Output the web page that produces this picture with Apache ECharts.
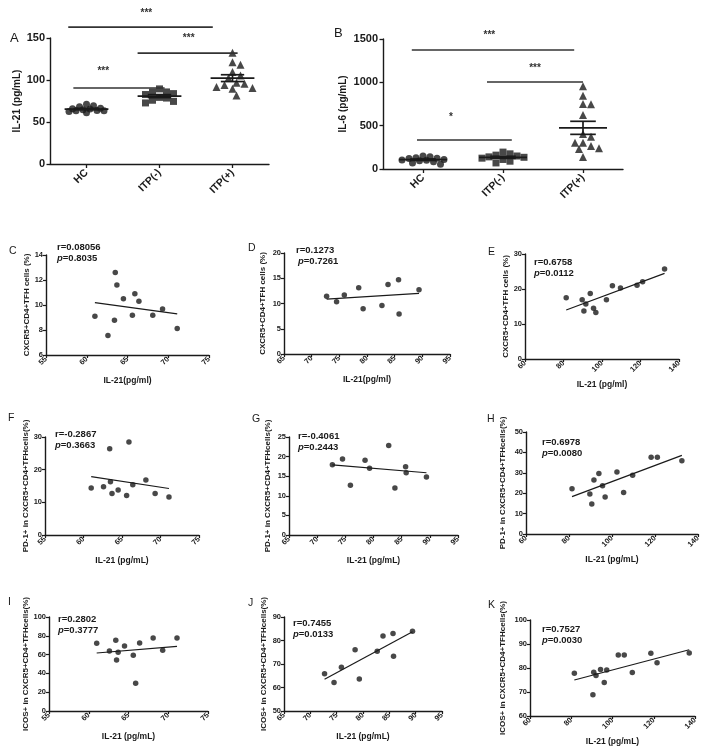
<!DOCTYPE html>
<html><head><meta charset="utf-8">
<script src="https://cdn.jsdelivr.net/npm/echarts@6/dist/echarts.min.js"></script>
<style>html,body{margin:0;padding:0;background:#fff}#c{width:710px;height:753px}</style>
</head><body><div id="c"></div>
<script>
// ---------------- DATA ----------------
const categories = ['HC', 'ITP(-)', 'ITP(+)'];
// IL-21 (pg/mL) per group
const il21HC  = [61.0, 62.6, 63.4, 63.5, 63.7, 64.5, 65.6, 65.9, 66.4, 68.1, 69.3, 71.1];
const il21Neg = [72.7, 74.5, 75.9, 78.5, 79.3, 82.7, 83.8, 85.7, 85.8, 89.4];
const il21Pos = [81.4, 89.7, 90.6, 91.6, 93.9, 95.6, 96.8, 102.3, 105.4, 109.6, 118.2, 121.1, 132.5];
const il21PosK = [81.5, 90.5, 90.9, 92.0, 94.2, 96.0, 97.2, 102.8, 105.7, 109.6, 118.6, 121.6, 137.2];
// IL-6 (pg/mL) per group
const il6HC  = [150, 140, 130, 125, 120, 110, 105, 100, 95, 85, 70, 55];
const il6Neg = [195, 175, 160, 150, 140, 135, 125, 110, 90, 70];
const il6Pos = [954, 846, 750, 746, 623, 404, 373, 304, 304, 265, 238, 231, 138];
// CXCR5+CD4+TFH cells (%)
const tfhHC  = [9.11, 7.56, 8.78, 12.6, 11.6, 10.5, 9.19, 10.9, 10.3, 9.19, 9.69, 8.12];
const tfhNeg = [11.43, 10.37, 11.7, 13.1, 8.97, 9.6, 13.75, 14.7, 7.9, 12.7];
const tfhPos = [17.5, 16.95, 13.7, 15.7, 18.7, 14.5, 13.3, 16.9, 20.9, 20.3, 21.05, 22.1, 25.7];
// PD-1+ in CXCR5+CD4+TFH cells (%)
const pd1HC  = [14.4, 14.75, 26.4, 16.3, 12.7, 13.8, 12.1, 28.5, 15.4, 16.8, 12.7, 11.6];
const pd1Neg = [17.9, 19.4, 12.7, 19.1, 17.0, 22.8, 12.0, 17.4, 15.9, 14.8];
const pd1Pos = [22.2, 19.6, 14.7, 26.5, 29.7, 23.7, 18.1, 30.4, 20.4, 28.8, 37.6, 37.6, 35.9];
// ICOS+ in CXCR5+CD4+TFH cells (%)
const icosHC  = [72.0, 63.8, 75.2, 54.3, 62.4, 69.1, 59.2, 29.4, 72.3, 77.7, 64.5, 77.7];
const icosNeg = [65.9, 62.1, 68.6, 76.1, 63.6, 75.4, 81.9, 83.0, 73.3, 83.9];
const icosPos = [77.8, 68.9, 78.2, 76.9, 79.4, 74.0, 79.2, 85.4, 85.4, 78.1, 86.1, 82.2, 86.3];
// correlation statistics
const statR = ['r=0.08056', 'r=0.1273', 'r=0.6758', 'r=-0.2867', 'r=-0.4061', 'r=0.6978', 'r=0.2802', 'r=0.7455', 'r=0.7527'];
const statP = ['0.8035', '0.7261', '0.0112', '0.3663', '0.2443', '0.0080', '0.3777', '0.0133', '0.0030'];
// significance comparisons [from, to, label]
const sigA = [['HC', 'ITP(+)', '***'], ['ITP(-)', 'ITP(+)', '***'], ['HC', 'ITP(-)', '***']];
const sigB = [['HC', 'ITP(+)', '***'], ['ITP(-)', 'ITP(+)', '***'], ['HC', 'ITP(-)', '*']];

// ---------------- LAYOUT ----------------
const FONT = '"Liberation Sans", Arial, sans-serif';
const INK = '#1a1a1a';
const ci = c => categories.indexOf(c);

function meanSem(a) {
  const n = a.length, m = a.reduce((s, v) => s + v, 0) / n;
  const sd = Math.sqrt(a.reduce((s, v) => s + (v - m) * (v - m), 0) / (n - 1));
  return [m, sd / Math.sqrt(n)];
}
function regress(xs, ys) {
  const n = xs.length, mx = xs.reduce((s, v) => s + v, 0) / n, my = ys.reduce((s, v) => s + v, 0) / n;
  let sxy = 0, sxx = 0;
  xs.forEach((x, i) => { sxy += (x - mx) * (ys[i] - my); sxx += (x - mx) * (x - mx); });
  const b = sxy / sxx, a = my - b * mx;
  const x0 = Math.min(...xs), x1 = Math.max(...xs);
  return [[x0, a + b * x0], [x1, a + b * x1]];
}
// beeswarm layout limited to a maximum horizontal spread (pixels)
function swarm(values, idx, pxX, pxY, size, maxOff) {
  const order = values.map((v, i) => i).sort((a, b) => values[b] - values[a]);
  const placed = [], out = new Array(values.length);
  const minD = size * 0.9, step = size * 0.5;
  for (const i of order) {
    const v = values[i];
    let best = 0, bestD = -1, found = false;
    for (let k = 0; ; k++) {
      const cand = k === 0 ? 0 : (k % 2 ? 1 : -1) * Math.ceil(k / 2) * step;
      if (Math.abs(cand) > maxOff) break;
      let nd = Infinity;
      placed.forEach(p => { const dx = cand - p.dx, dy = (v - p.v) * pxY; nd = Math.min(nd, Math.sqrt(dx * dx + dy * dy)); });
      if (nd >= minD) { best = cand; found = true; break; }
      if (nd > bestD) { bestD = nd; best = cand; }
    }
    placed.push({ dx: best, v });
    out[i] = [idx + best / pxX, v];
  }
  return out;
}
function meanSemRender(hw, cw) {
  return function (params, api) {
    const x = api.value(0), m = api.value(1), s = api.value(2);
    const L = (p, q) => ({ type: 'line', shape: { x1: p[0], y1: p[1], x2: q[0], y2: q[1] }, style: { stroke: INK, lineWidth: 1.7 } });
    return { type: 'group', children: [
      L(api.coord([x - hw, m]), api.coord([x + hw, m])),
      L(api.coord([x, m + s]), api.coord([x, m - s])),
      L(api.coord([x - cw, m + s]), api.coord([x + cw, m + s])),
      L(api.coord([x - cw, m - s]), api.coord([x + cw, m - s]))
    ] };
  };
}
function bracketRender(labels) {
  return function (params, api) {
    const p1 = api.coord([api.value(0), api.value(2)]), p2 = api.coord([api.value(1), api.value(2)]);
    const pt = api.coord([api.value(3), api.value(4)]);
    return { type: 'group', children: [
      { type: 'line', shape: { x1: p1[0], y1: p1[1], x2: p2[0], y2: p2[1] }, style: { stroke: '#333', lineWidth: 1.6 } },
      { type: 'text', x: pt[0], y: pt[1], style: { text: labels[params.dataIndex], fontSize: 10, fontWeight: 'bold', fill: '#333', align: 'center', verticalAlign: 'middle', fontFamily: FONT } }
    ] };
  };
}

const grids = [], xAxes = [], yAxes = [], series = [], graphics = [];
const axisCommon = {
  axisLine: { show: true, onZero: false, lineStyle: { color: INK, width: 1.4 } },
  axisTick: { show: true, length: 3.5, lineStyle: { color: INK, width: 1.3 } },
  splitLine: { show: false }
};

// Dot plots A and B
const dotPanels = [
  { grid: { left: 50, top: 38, width: 219, height: 126 }, groups: [il21HC, il21Neg, il21Pos], yr: [0, 150, 50],
    yName: 'IL-21 (pg/mL)', nameGap: 27, sig: sigA, spread: [18, 20, 20],
    sigGeom: [[-0.25, -0.27, 163, 0.82, 180], [-0.30, 0.07, 132, 1.40, 150], [-0.18, 0.07, 90.5, 0.23, 111]],
    letter: ['A', 10, 32] },
  { grid: { left: 383, top: 39, width: 240, height: 130 }, groups: [il6HC, il6Neg, il6Pos], yr: [0, 1500, 500],
    yName: 'IL-6 (pg/mL)', nameGap: 35, sig: sigB, spread: [22, 24, 20],
    sigGeom: [[-0.14, -0.11, 1373, 0.83, 1540], [-0.20, 0.0, 1004, 1.40, 1160], [-0.075, 0.11, 335, 0.35, 595]],
    letter: ['B', 334, 27] }
];
const shapes = ['circle', 'rect', 'triangle'];
const shapeSize = [7, 7, 8];
dotPanels.forEach(p => {
  const g = grids.length;
  grids.push(p.grid);
  xAxes.push(Object.assign({}, axisCommon, {
    type: 'category', gridIndex: g, data: categories, boundaryGap: true,
    axisTick: { show: true, alignWithLabel: true, length: 4, lineStyle: { color: INK, width: 1.3 } },
    axisLabel: { rotate: 45, fontSize: 10.5, fontWeight: 'bold', color: INK, fontFamily: FONT, margin: 7 }
  }));
  const xVal = xAxes.length;
  xAxes.push({ type: 'value', gridIndex: g, min: -0.5, max: 2.5, show: false });
  const yi = yAxes.length;
  yAxes.push(Object.assign({}, axisCommon, {
    type: 'value', gridIndex: g, min: p.yr[0], max: p.yr[1], interval: p.yr[2],
    name: p.yName, nameLocation: 'middle', nameGap: p.nameGap, nameRotate: 90,
    nameTextStyle: { fontSize: 10, fontWeight: 'bold', color: INK, fontFamily: FONT },
    axisLabel: { fontSize: 11, fontWeight: 'bold', color: INK, fontFamily: FONT, margin: 5, formatter: v => String(v) }
  }));
  const pxX = p.grid.width / 3, pxY = p.grid.height / (p.yr[1] - p.yr[0]);
  p.groups.forEach((vals, k) => {
    series.push({ type: 'scatter', xAxisIndex: xVal, yAxisIndex: yi, symbol: shapes[k], symbolSize: shapeSize[k],
      itemStyle: { color: INK }, data: swarm(vals, k, pxX, pxY, shapeSize[k], p.spread[k]), z: 3 });
  });
  series.push({ type: 'custom', xAxisIndex: xVal, yAxisIndex: yi, renderItem: meanSemRender(0.30, 0.16), z: 4,
    data: p.groups.map((vals, k) => { const ms = meanSem(vals); return [k, ms[0], ms[1]]; }) });
  series.push({ type: 'custom', xAxisIndex: xVal, yAxisIndex: yi, renderItem: bracketRender(p.sig.map(s => s[2])), z: 4,
    data: p.sig.map((s, k) => { const gm = p.sigGeom[k]; return [ci(s[0]) + gm[0], ci(s[1]) + gm[1], gm[2], gm[3], gm[4]]; }) });
  graphics.push({ type: 'text', left: p.letter[1], top: p.letter[2], style: { text: p.letter[0], fontSize: 13, fill: INK, fontFamily: FONT } });
});

// Correlation panels C-K
const yNameT = 'CXCR5+CD4+TFH cells (%)', yNameP = 'PD-1+ in CXCR5+CD4+TFHcells(%)', yNameI = 'ICOS+ in CXCR5+CD4+TFHcells(%)';
const corr = [
  { L: 'C', x: il21HC, y: tfhHC, xr: [55, 75, 5], yr: [6, 14, 2], grid: { left: 46, top: 255, width: 163, height: 100 }, yName: yNameT, gap: 14, xName: 'IL-21(pg/ml)', lp: [9, 246], sp: [57, 242] },
  { L: 'D', x: il21Neg, y: tfhNeg, xr: [65, 95, 5], yr: [0, 20, 5], grid: { left: 284, top: 253, width: 166, height: 101 }, yName: yNameT, gap: 17, xName: 'IL-21(pg/ml)', lp: [248, 243], sp: [296, 245], pIndent: true },
  { L: 'E', x: il21Pos, y: tfhPos, xr: [60, 140, 20], yr: [0, 30, 10], grid: { left: 525, top: 254, width: 154, height: 105 }, yName: yNameT, gap: 15, xName: 'IL-21 (pg/ml)', lp: [488, 247], sp: [534, 257] },
  { L: 'F', x: il21HC, y: pd1HC, xr: [55, 75, 5], yr: [0, 30, 10], grid: { left: 45, top: 437, width: 154, height: 98 }, yName: yNameP, gap: 9, xName: 'IL-21 (pg/mL)', lp: [8, 413], sp: [55, 429] },
  { L: 'G', x: il21Neg, y: pd1Neg, xr: [65, 95, 5], yr: [0, 25, 5], grid: { left: 289, top: 437, width: 169, height: 98 }, yName: yNameP, gap: 17, xName: 'IL-21 (pg/mL)', lp: [252, 414], sp: [298, 431] },
  { L: 'H', x: il21Pos, y: pd1Pos, xr: [60, 140, 20], yr: [0, 50, 10], grid: { left: 526, top: 432, width: 172, height: 102 }, yName: yNameP, gap: 19, xName: 'IL-21 (pg/mL)', lp: [487, 414], sp: [542, 437] },
  { L: 'I', x: il21HC, y: icosHC, xr: [55, 75, 5], yr: [0, 100, 20], grid: { left: 49, top: 617, width: 159, height: 94 }, yName: yNameI, gap: 11, xName: 'IL-21 (pg/mL)', lp: [8, 597], sp: [58, 614] },
  { L: 'J', x: il21Neg, y: icosNeg, xr: [65, 95, 5], yr: [50, 90, 10], grid: { left: 284, top: 617, width: 158, height: 94 }, yName: yNameI, gap: 16, xName: 'IL-21 (pg/mL)', lp: [248, 598], sp: [293, 618] },
  { L: 'K', x: il21PosK, y: icosPos, xr: [60, 140, 20], yr: [60, 100, 10], grid: { left: 530, top: 620, width: 165, height: 96 }, yName: yNameI, gap: 23, xName: 'IL-21 (pg/mL)', lp: [488, 600], sp: [542, 624] }
];
corr.forEach((p, k) => {
  const g = grids.length;
  grids.push(p.grid);
  const xi = xAxes.length;
  xAxes.push(Object.assign({}, axisCommon, {
    type: 'value', gridIndex: g, min: p.xr[0], max: p.xr[1], interval: p.xr[2],
    name: p.xName, nameLocation: 'middle', nameGap: 21,
    nameTextStyle: { fontSize: 8.5, fontWeight: 'bold', color: INK, fontFamily: FONT },
    axisTick: { show: true, length: 3, lineStyle: { color: INK, width: 1.2 } },
    axisLabel: { rotate: 45, fontSize: 7.5, fontWeight: 'bold', color: INK, fontFamily: FONT, margin: 3 }
  }));
  const yi = yAxes.length;
  yAxes.push(Object.assign({}, axisCommon, {
    type: 'value', gridIndex: g, min: p.yr[0], max: p.yr[1], interval: p.yr[2],
    name: p.yName, nameLocation: 'middle', nameGap: p.gap, nameRotate: 90,
    nameTextStyle: { fontSize: 8, fontWeight: 'bold', color: INK, fontFamily: FONT },
    axisTick: { show: true, length: 3, lineStyle: { color: INK, width: 1.2 } },
    axisLabel: { fontSize: 7.5, fontWeight: 'bold', color: INK, fontFamily: FONT, margin: 3 }
  }));
  series.push({ type: 'scatter', xAxisIndex: xi, yAxisIndex: yi, symbolSize: 5.5, itemStyle: { color: INK },
    data: p.x.map((v, i) => [v, p.y[i]]), z: 3 });
  series.push({ type: 'line', xAxisIndex: xi, yAxisIndex: yi, showSymbol: false, symbol: 'none',
    lineStyle: { color: INK, width: 1.2 }, data: regress(p.x, p.y), z: 2 });
  graphics.push({ type: 'text', left: p.lp[0], top: p.lp[1], style: { text: p.L, fontSize: 10.5, fill: INK, fontFamily: FONT } });
  graphics.push({ type: 'text', left: p.sp[0], top: p.sp[1], style: { text: statR[k], fontSize: 9.5, fontWeight: 'bold', fill: INK, fontFamily: FONT } });
  graphics.push({ type: 'text', left: p.sp[0] + (p.pIndent ? 2 : 0), top: p.sp[1] + 11.5, style: {
    text: '{i|p}=' + statP[k], fontSize: 9.5, fontWeight: 'bold', fill: INK, fontFamily: FONT,
    rich: { i: { fontStyle: 'italic', fontWeight: 'bold', fontSize: 9.5, fill: INK, fontFamily: FONT } } } });
});

const chart = echarts.init(document.getElementById('c'), null, { renderer: 'canvas' });
chart.setOption({
  animation: false,
  backgroundColor: '#fff',
  textStyle: { fontFamily: FONT },
  grid: grids,
  xAxis: xAxes,
  yAxis: yAxes,
  series: series,
  graphic: graphics
});
</script>
</body></html>
